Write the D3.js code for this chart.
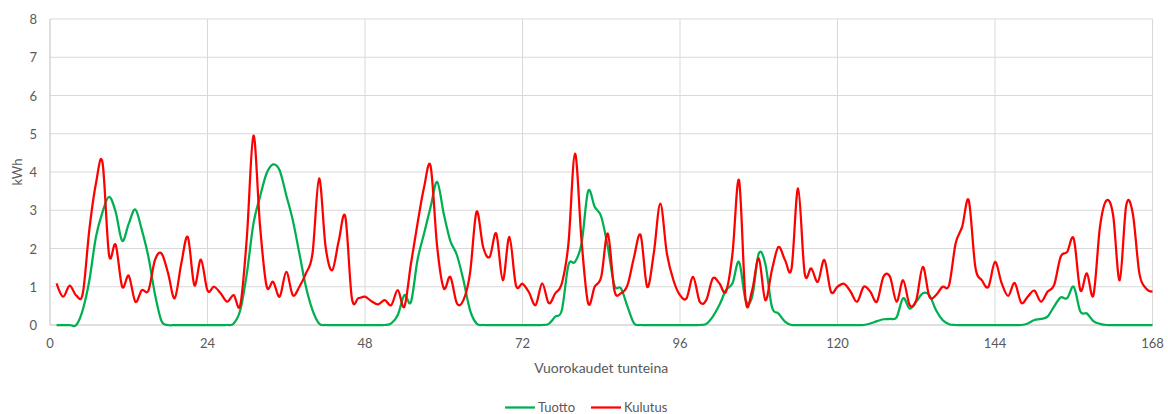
<!DOCTYPE html>
<html>
<head>
<meta charset="utf-8">
<script src="https://cdn.jsdelivr.net/npm/d3@7"></script>
<style>
  body { margin: 0; background: #fff; }
  svg text { font-family: Lato, "Open Sans", sans-serif; fill: #595959; }
</style>
</head>
<body>
<svg id="vis" width="1168" height="414"></svg>
<script>
// hours 1..168
var tuotto = [
  0, 0, 0, 0, 0.4, 1.17, 2.3, 2.95, 3.35, 2.96, 2.2, 2.65, 3.02, 2.48, 1.78, 0.8, 0.1, 0, 0, 0, 0, 0, 0, 0,
  0, 0, 0, 0.04, 0.39, 1.35, 2.65, 3.35, 3.96, 4.2, 4.04, 3.39, 2.74, 1.87, 1.0, 0.39, 0.04, 0, 0, 0, 0, 0, 0, 0,
  0, 0, 0, 0.04, 0.26, 0.78, 0.6, 1.7, 2.39, 3.09, 3.74, 2.91, 2.2, 1.83, 1.17, 0.39, 0.04, 0, 0, 0, 0, 0, 0, 0,
  0, 0, 0, 0.03, 0.22, 0.39, 1.57, 1.65, 2.13, 3.5, 3.09, 2.83, 2.04, 1.04, 0.96, 0.48, 0.04, 0, 0, 0, 0, 0, 0, 0,
  0, 0, 0, 0.03, 0.22, 0.52, 0.91, 1.09, 1.65, 0.65, 0.74, 1.87, 1.6, 0.48, 0.3, 0.09, 0, 0, 0, 0, 0, 0, 0, 0,
  0, 0, 0, 0, 0.04, 0.1, 0.15, 0.16, 0.2, 0.7, 0.43, 0.61, 0.83, 0.78, 0.39, 0.13, 0.02, 0, 0, 0, 0, 0, 0, 0,
  0, 0, 0, 0, 0.04, 0.13, 0.16, 0.22, 0.48, 0.72, 0.7, 1.0, 0.35, 0.3, 0.1, 0.03, 0, 0, 0, 0, 0, 0, 0, 0
];
var kulutus = [
  1.09, 0.74, 1.03, 0.77, 0.83, 2.5, 3.7, 4.25, 1.83, 2.1, 1.0, 1.29, 0.61, 0.91, 0.9, 1.7, 1.87, 1.35, 0.7, 1.6, 2.3, 1.04, 1.71, 0.9,
  1.0, 0.83, 0.61, 0.78, 0.52, 2.3, 4.95, 2.6, 1.02, 1.13, 0.74, 1.39, 0.78, 1.0, 1.35, 1.87, 3.83, 2.04, 1.43, 2.2, 2.83, 0.7, 0.7, 0.74,
  0.62, 0.54, 0.65, 0.52, 0.91, 0.48, 1.6, 2.65, 3.6, 4.15, 2.04, 0.96, 1.26, 0.57, 0.65, 1.35, 2.96, 2.04, 1.78, 2.39, 1.17, 2.3, 1.04, 1.08,
  0.85, 0.52, 1.09, 0.57, 0.83, 1.09, 2.13, 4.48, 2.2, 0.57, 1.0, 1.26, 2.39, 0.91, 0.83, 1.04, 1.78, 2.35, 1.0, 1.87, 3.17, 1.87, 1.17, 0.78,
  0.7, 1.26, 0.61, 0.65, 1.22, 1.09, 0.87, 1.87, 3.78, 0.65, 0.91, 1.74, 0.65, 1.43, 2.04, 1.7, 1.48, 3.57, 1.35, 1.48, 1.13, 1.7, 0.87, 1.0,
  1.08, 0.87, 0.61, 1.0, 0.87, 0.61, 1.26, 1.26, 0.61, 1.17, 0.52, 0.65, 1.52, 0.74, 0.78, 1.0, 1.04, 2.13, 2.57, 3.26, 1.52, 1.17, 1.0, 1.65,
  1.1, 0.76, 1.1, 0.58, 0.74, 0.9, 0.61, 0.87, 1.04, 1.78, 1.91, 2.26, 0.91, 1.35, 0.78, 2.57, 3.26, 2.87, 1.17, 3.13, 2.91, 1.35, 0.96, 0.87
];
var xTicks = [0, 24, 48, 72, 96, 120, 144, 168];
var yTicks = [0, 1, 2, 3, 4, 5, 6, 7, 8];
var seriesNames = ["Tuotto", "Kulutus"];
var seriesColors = ["#00b050", "#ff0000"];

var plotLeft = 50, plotRight = 1152.5, plotTop = 19, plotBottom = 325;

var x = d3.scaleLinear().domain([0, 168]).range([plotLeft, plotRight]);
var y = d3.scaleLinear().domain([0, 8]).range([plotBottom, plotTop]);

var svg = d3.select("#vis");

// gridlines
svg.append("g")
   .selectAll("line")
   .data(yTicks.slice(1))
   .enter().append("line")
   .attr("x1", plotLeft).attr("x2", plotRight)
   .attr("y1", function (d) { return y(d); })
   .attr("y2", function (d) { return y(d); })
   .attr("stroke", "#d9d9d9").attr("stroke-width", 1);

svg.append("g")
   .selectAll("line")
   .data(xTicks.slice(1))
   .enter().append("line")
   .attr("x1", function (d) { return x(d); })
   .attr("x2", function (d) { return x(d); })
   .attr("y1", plotTop).attr("y2", plotBottom)
   .attr("stroke", "#d9d9d9").attr("stroke-width", 1);

// axis lines
svg.append("line")
   .attr("x1", plotLeft).attr("x2", plotLeft).attr("y1", plotTop).attr("y2", plotBottom)
   .attr("stroke", "#bfbfbf");
svg.append("line")
   .attr("x1", plotLeft).attr("x2", plotRight).attr("y1", plotBottom).attr("y2", plotBottom)
   .attr("stroke", "#bfbfbf");

// tick labels
svg.append("g")
   .selectAll("text")
   .data(yTicks)
   .enter().append("text")
   .attr("x", 37)
   .attr("y", function (d) { return y(d) + 5; })
   .attr("text-anchor", "end")
   .style("font-size", "13px")
   .text(function (d) { return d; });

svg.append("g")
   .selectAll("text")
   .data(xTicks)
   .enter().append("text")
   .attr("x", function (d) { return x(d); })
   .attr("y", 348)
   .attr("text-anchor", "middle")
   .style("font-size", "13px")
   .text(function (d) { return d; });

// axis titles
svg.append("text")
   .attr("x", (plotLeft + plotRight) / 2)
   .attr("y", 373)
   .attr("text-anchor", "middle")
   .style("font-size", "14px")
   .text("Vuorokaudet tunteina");

svg.append("text")
   .attr("transform", "translate(22," + ((plotTop + plotBottom) / 2) + ") rotate(-90)")
   .attr("text-anchor", "middle")
   .style("font-size", "13px")
   .text("kWh");

// lines
var line = d3.line()
   .x(function (d, i) { return x(i + 1); })
   .y(function (d) { return y(d); })
   .curve(d3.curveCatmullRom.alpha(0));

[tuotto, kulutus].forEach(function (s, k) {
    svg.append("path")
       .datum(s)
       .attr("fill", "none")
       .attr("stroke", seriesColors[k])
       .attr("stroke-width", 2.25)
       .attr("stroke-linejoin", "round")
       .attr("d", line);
});

// legend
var legendX = [505, 591];
seriesNames.forEach(function (name, k) {
    svg.append("line")
       .attr("x1", legendX[k]).attr("x2", legendX[k] + 30)
       .attr("y1", 407.5).attr("y2", 407.5)
       .attr("stroke", seriesColors[k]).attr("stroke-width", 2.25);
    svg.append("text")
       .attr("x", legendX[k] + 33)
       .attr("y", 411.5)
       .style("font-size", "13px")
       .text(name);
});
</script>
</body>
</html>
